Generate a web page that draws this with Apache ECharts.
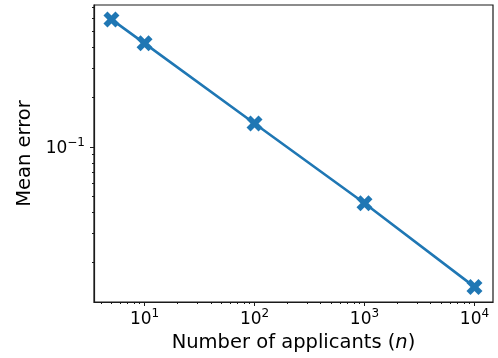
<!DOCTYPE html>
<html>
<head>
<meta charset="utf-8">
<script src="https://cdn.jsdelivr.net/npm/echarts@6/dist/echarts.min.js"></script>
<style>
  html, body { margin: 0; padding: 0; background: #fff; }
  #chart { width: 498px; height: 358px; }
</style>
</head>
<body>
<div id="chart"></div>
<script>
// data (log-log plot)
const applicants = [5, 10, 100, 1000, 10000];
const meanError = [0.594, 0.425, 0.139, 0.0456, 0.0142];

// axis ranges (in data units) and tick marks
const xRange = [3.47, 14740];
const yRange = [0.0115, 0.726];
const xMajor = [10, 100, 1000, 10000];
const xMinor = [4, 5, 6, 7, 8, 9, 20, 30, 40, 50, 60, 70, 80, 90,
  200, 300, 400, 500, 600, 700, 800, 900, 2000, 3000, 4000, 5000, 6000, 7000, 8000, 9000];
const yMajor = [0.1];
const yMinor = [0.02, 0.03, 0.04, 0.05, 0.06, 0.07, 0.08, 0.09, 0.2, 0.3, 0.4, 0.5, 0.6, 0.7];

const lg = (v) => Math.log10(v);
const FONT = 'DejaVu Sans';
const BLUE = '#1f77b4';
const INK = '#1a1a1a';

// matplotlib filled 'X' marker
const xMarker = 'path://M1,0 L2,1 L3,0 L4,1 L3,2 L4,3 L3,4 L2,3 L1,4 L0,3 L1,2 L0,1 Z';

const powLabel = (v) => {
  const e = Math.round(v);
  return '{b|10}{s|' + (e < 0 ? '\u2212' + (-e) : e) + '}';
};
const powRich = {
  b: { fontFamily: FONT, fontSize: 17, lineHeight: 20, color: '#000', verticalAlign: 'bottom' },
  s: { fontFamily: FONT, fontSize: 12, lineHeight: 12, color: '#000', verticalAlign: 'top' },
};

function baseAxis(range) {
  return {
    type: 'value',
    min: lg(range[0]),
    max: lg(range[1]),
    splitLine: { show: false },
  };
}

const chart = echarts.init(document.getElementById('chart'), null, { renderer: 'canvas' });
chart.setOption({
  animation: false,
  grid: {
    left: 94, right: 5, top: 5, bottom: 56,
    show: true, borderColor: INK, borderWidth: 1.2, backgroundColor: 'transparent',
  },
  xAxis: [
    Object.assign(baseAxis(xRange), {
      position: 'bottom',
      axisLine: { show: true, lineStyle: { color: INK, width: 1.2 } },
      axisTick: { show: true, customValues: xMajor.map(lg), length: 4, lineStyle: { color: INK } },
      axisLabel: {
        customValues: xMajor.map(lg), margin: 6,
        formatter: powLabel, rich: powRich,
      },
      name: '{a|Number of applicants (}{i|n}{a|)}',
      nameLocation: 'middle',
      nameGap: 26,
      nameTextStyle: {
        rich: {
          a: { fontFamily: FONT, fontSize: 19.5, color: '#000' },
          i: { fontFamily: FONT, fontSize: 19.5, fontStyle: 'italic', color: '#000' },
        },
      },
    }),
    Object.assign(baseAxis(xRange), {
      position: 'bottom',
      axisLine: { show: false },
      axisTick: { show: true, customValues: xMinor.map(lg), length: 2, lineStyle: { color: INK } },
      axisLabel: { show: false },
    }),
  ],
  yAxis: [
    Object.assign(baseAxis(yRange), {
      position: 'left',
      axisLine: { show: true, lineStyle: { color: INK, width: 1.2 } },
      axisTick: { show: true, customValues: yMajor.map(lg), length: 4, lineStyle: { color: INK } },
      axisLabel: {
        customValues: yMajor.map(lg), margin: 9,
        formatter: powLabel, rich: powRich,
      },
      name: 'Mean error',
      nameLocation: 'middle',
      nameGap: 58,
      nameTextStyle: { fontFamily: FONT, fontSize: 19.5, color: '#000' },
    }),
    Object.assign(baseAxis(yRange), {
      position: 'left',
      axisLine: { show: false },
      axisTick: { show: true, customValues: yMinor.map(lg), length: 2, lineStyle: { color: INK } },
      axisLabel: { show: false },
    }),
  ],
  series: [
    {
      type: 'line',
      xAxisIndex: 0,
      yAxisIndex: 0,
      data: applicants.map((n, i) => [lg(n), lg(meanError[i])]),
      lineStyle: { color: BLUE, width: 2.6 },
      itemStyle: { color: BLUE },
      symbol: xMarker,
      symbolSize: 16,
      showAllSymbol: true,
    },
  ],
});
</script>
</body>
</html>
